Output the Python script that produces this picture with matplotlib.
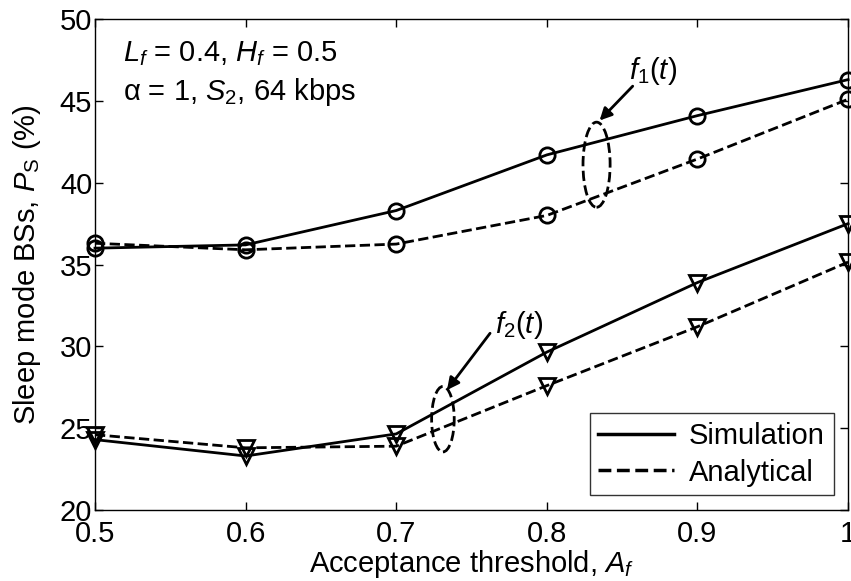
import numpy as np
import matplotlib
matplotlib.use("Agg")
import matplotlib.pyplot as plt
from matplotlib.patches import Ellipse

plt.rcParams['font.family'] = ['Liberation Sans', 'DejaVu Sans']
plt.rcParams['mathtext.fontset'] = 'custom'
plt.rcParams['mathtext.rm'] = 'Liberation Sans'
plt.rcParams['mathtext.it'] = 'Liberation Sans:italic'
plt.rcParams['mathtext.sf'] = 'Liberation Sans'

# acceptance threshold values
af = [0.5, 0.6, 0.7, 0.8, 0.9, 1.0]

# f1(t) curves (circles)
f1_sim = [36.0, 36.2, 38.3, 41.7, 44.1, 46.3]
f1_ana = [36.3, 35.9, 36.25, 38.0, 41.45, 45.1]

# f2(t) curves (triangles)
f2_sim = [24.3, 23.3, 24.65, 29.65, 33.9, 37.5]
f2_ana = [24.6, 23.8, 23.9, 27.6, 31.2, 35.15]

FS = 21

fig = plt.figure(figsize=(8.51, 5.81), dpi=100)
ax = fig.add_axes([0.1116, 0.1222, 0.885, 0.845])

mk = dict(markersize=11, markerfacecolor='none', markeredgecolor='k', markeredgewidth=2)
ax.plot(af, f1_sim, 'k-', lw=2, marker='o', clip_on=False, **mk)
ax.plot(af, f1_ana, 'k--', lw=2, marker='o', clip_on=False, **mk)
ax.plot(af, f2_sim, 'k-', lw=2, marker='v', clip_on=False, **mk)
ax.plot(af, f2_ana, 'k--', lw=2, marker='v', clip_on=False, **mk)

# legend proxies (lines only)
h1, = ax.plot([], [], 'k-', lw=2.5)
h2, = ax.plot([], [], 'k--', lw=2.5)
leg = ax.legend([h1, h2], ['Simulation', 'Analytical'], loc='lower right',
                fontsize=FS, frameon=True, fancybox=False, edgecolor='k',
                handlelength=2.6, borderaxespad=0.5, labelspacing=0.3,
                handletextpad=0.5, borderpad=0.3)
leg.get_frame().set_linewidth(1)

# ellipses
ax.add_patch(Ellipse((0.833, 41.1), 0.018, 5.2, angle=0, fill=False,
                     ls='--', lw=2, ec='k'))
ax.add_patch(Ellipse((0.731, 25.55), 0.015, 4.0, angle=0, fill=False,
                     ls='--', lw=2, ec='k'))

# arrows and labels
arrow = dict(arrowstyle='-|>', color='k', lw=2, mutation_scale=18,
             shrinkA=0, shrinkB=0)
ax.annotate('', xy=(0.835, 43.8), xytext=(0.857, 45.9), arrowprops=arrow)
ax.annotate('', xy=(0.7337, 27.33), xytext=(0.7623, 30.8), arrowprops=arrow)
ax.text(0.8705, 46.8, '$f_1(t)$', fontsize=FS, ha='center', va='center')
ax.text(0.7815, 31.3, '$f_2(t)$', fontsize=FS, ha='center', va='center')

ax.text(0.5186, 47.4, '$L_f$ = 0.4, $H_f$ = 0.5', fontsize=FS, va='baseline')
ax.text(0.5186, 45.05, '\u03b1 = 1, $S_2$, 64 kbps', fontsize=FS, va='baseline')

ax.set_xlim(0.5, 1.0)
ax.set_ylim(20, 50)
ax.set_xticks(af)
ax.set_xticklabels(['0.5', '0.6', '0.7', '0.8', '0.9', '1'])
ax.set_yticks([20, 25, 30, 35, 40, 45, 50])
ax.tick_params(direction='in', top=True, right=True, length=6, width=1,
               labelsize=FS)
ax.tick_params(axis='x', pad=7)
ax.tick_params(axis='y', pad=2)
for s in ax.spines.values():
    s.set_linewidth(1)

ax.set_xlabel('Acceptance threshold, $A_f$', fontsize=FS, labelpad=0)
ax.set_ylabel('Sleep mode BSs, $P_\\mathrm{S}$ (%)', fontsize=FS, labelpad=12)

fig.savefig('out.png', dpi=100)
